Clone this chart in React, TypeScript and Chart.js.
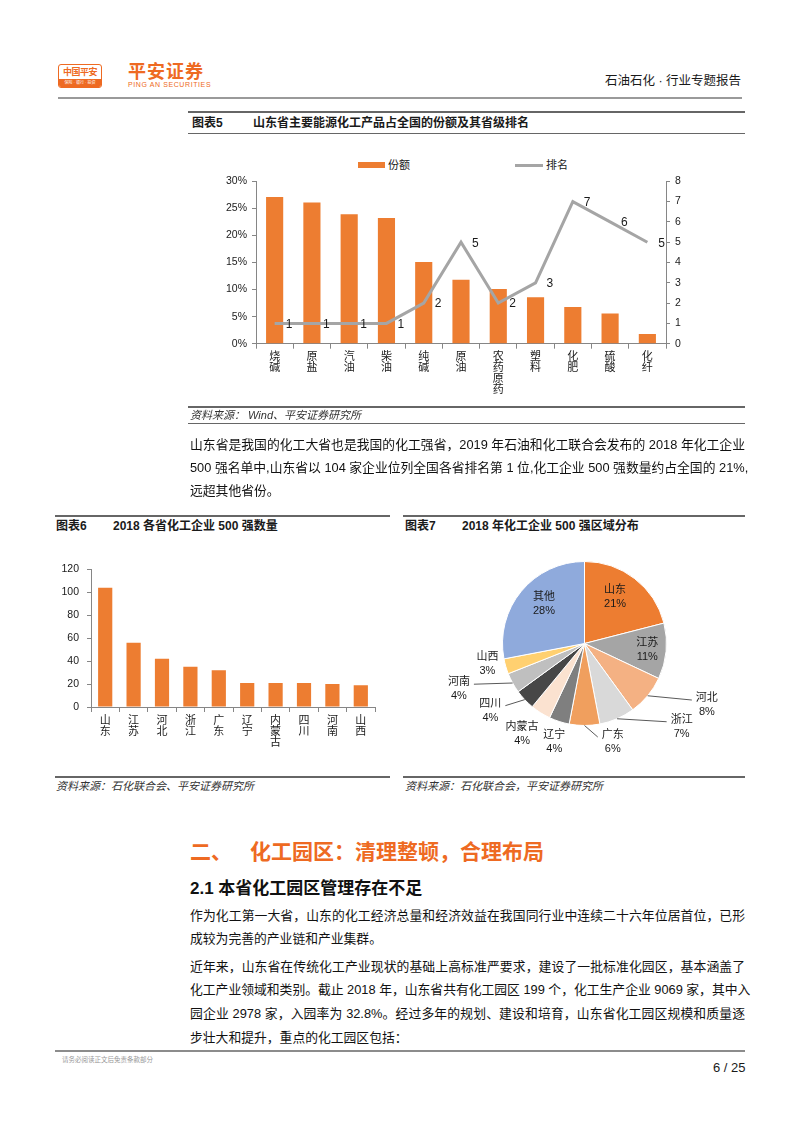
import React, { useEffect, useRef } from "react";
import { Chart, registerables } from "chart.js";
Chart.register(...registerables);

const FONT = '"Liberation Sans", "Noto Sans CJK SC", sans-serif';
const ORANGE = "#ED7D31";
const AXIS = "#868686";

// ---------- 图表5 data ----------
const productLabels = ["烧碱", "原盐", "汽油", "柴油", "纯碱", "原油", "农药原药", "塑料", "化肥", "硫酸", "化纤"];
const productShare = [27.1, 26.1, 23.9, 23.2, 15.1, 11.8, 10.1, 8.6, 6.8, 5.6, 1.8];
const productRank = [1, 1, 1, 1, 2, 5, 2, 3, 7, 6, 5];

// ---------- 图表6 data ----------
const provinces = ["山东", "江苏", "河北", "浙江", "广东", "辽宁", "内蒙古", "四川", "河南", "山西"];
const top500Count = [104, 56, 42, 35, 32, 21, 21, 21, 20, 19];

// ---------- 图表7 data ----------
const pieRegions = ["山东", "江苏", "河北", "浙江", "广东", "辽宁", "内蒙古", "四川", "河南", "山西", "其他"];
const pieShare = [21, 11, 8, 7, 6, 4, 4, 4, 4, 3, 28];

// styles for pie
const pieColors = ["#ED7D31", "#A5A5A5", "#F4B183", "#D9D9D9", "#F09F5E", "#7F7F7F", "#FBE2D0", "#474747", "#BFBFBF", "#FFD070", "#8FAADC"];
const pieLabelRadius = [0.68, 0.77, 1.67, 1.56, 1.25, 1.26, 1.34, 1.41, 1.63, 1.21, 0.69];
const pieLabelShift = [-4.5, 0.5, -12.9, -26, -16, -1, 2.2, 7.7, 8.8, 4.2, 4.7];
const pieLeader = [false, false, true, true, true, false, false, true, true, false, false];

const vertical = (s: string) => s.split("");

const rankLabelPlugin = {
  id: "rankLabels",
  afterDatasetsDraw(chart: any) {
    const meta = chart.getDatasetMeta(0);
    const ctx = chart.ctx;
    ctx.save();
    ctx.font = `12px ${FONT}`;
    ctx.fillStyle = "#1a1a1a";
    ctx.textAlign = "left";
    ctx.textBaseline = "middle";
    meta.data.forEach((p: any, i: number) => {
      ctx.fillText(String(productRank[i]), p.x + 11, p.y + 1);
    });
    ctx.restore();
  },
};

const pieLabelPlugin = {
  id: "pieLabels",
  afterDatasetsDraw(chart: any) {
    const meta = chart.getDatasetMeta(0);
    const ctx = chart.ctx;
    ctx.save();
    ctx.font = `11px ${FONT}`;
    ctx.fillStyle = "#1a1a1a";
    ctx.textAlign = "center";
    ctx.textBaseline = "middle";
    meta.data.forEach((arc: any, i: number) => {
      const { x, y, startAngle, endAngle, outerRadius } = arc.getProps(["x", "y", "startAngle", "endAngle", "outerRadius"], true);
      const mid = (startAngle + endAngle) / 2;
      const a = mid + (pieLabelShift[i] * Math.PI) / 180;
      const r = outerRadius * pieLabelRadius[i];
      const lx = x + Math.cos(a) * r;
      const ly = y + Math.sin(a) * r;
      const l1 = pieRegions[i];
      const l2 = pieShare[i] + "%";
      const y1 = ly - 7;
      const y2 = ly + 7;
      if (pieLeader[i]) {
        const ex = x + Math.cos(mid) * outerRadius;
        const ey = y + Math.sin(mid) * outerRadius;
        const w = Math.max(ctx.measureText(l1).width, ctx.measureText(l2).width) / 2;
        const side = lx > ex ? -1 : 1;
        const tx = lx + side * (w + 4);
        ctx.strokeStyle = "#595959";
        ctx.lineWidth = 1;
        ctx.beginPath();
        ctx.moveTo(ex, ey);
        ctx.lineTo(tx, y1 + 2);
        ctx.stroke();
      }
      ctx.fillText(l1, lx, y1);
      ctx.fillText(l2, lx, y2);
    });
    ctx.restore();
  },
};

const xTickFont = { size: 11, family: FONT, lineHeight: 1.0 };

function ShareChart() {
  const ref = useRef<HTMLCanvasElement>(null);
  useEffect(() => {
    const chart = new Chart(ref.current!, {
      type: "bar",
      data: {
        labels: productLabels.map(vertical),
        datasets: [
          {
            type: "line",
            label: "排名",
            data: productRank,
            yAxisID: "y1",
            borderColor: "#A5A5A5",
            borderWidth: 3,
            pointRadius: 0,
            tension: 0,
            order: 0,
          } as any,
          {
            type: "bar",
            label: "份额",
            data: productShare,
            yAxisID: "y",
            backgroundColor: ORANGE,
            barPercentage: 0.46,
            categoryPercentage: 1,
            order: 1,
          },
        ],
      },
      options: {
        responsive: false,
        animation: false,
        layout: { padding: { left: 0, right: 0, top: 11, bottom: 0 } },
        plugins: { legend: { display: false }, tooltip: { enabled: false } },
        scales: {
          x: {
            grid: { drawOnChartArea: false, drawTicks: true, tickLength: 5, offset: true, color: AXIS },
            border: { display: true, color: AXIS },
            ticks: { font: xTickFont, color: "#1a1a1a", maxRotation: 0, autoSkip: false, padding: 3 },
            afterFit: (s: any) => {
              s.height = 71.3;
            },
          },
          y: {
            position: "left",
            min: 0,
            max: 30,
            ticks: { stepSize: 5, callback: (v: any) => v + "%", font: { size: 10.5, family: FONT }, color: "#1a1a1a", padding: 5 },
            grid: { drawOnChartArea: false, drawTicks: true, tickLength: 4, color: AXIS },
            border: { display: true, color: AXIS },
            afterFit: (s: any) => {
              s.width = 66;
            },
          },
          y1: {
            position: "right",
            min: 0,
            max: 8,
            ticks: { stepSize: 1, font: { size: 10.5, family: FONT }, color: "#1a1a1a", padding: 5 },
            grid: { drawOnChartArea: false, drawTicks: true, tickLength: 4, color: AXIS },
            border: { display: true, color: AXIS },
            afterFit: (s: any) => {
              s.width = 79;
            },
          },
        },
      },
      plugins: [rankLabelPlugin],
    });
    return () => chart.destroy();
  }, []);
  return <canvas ref={ref} width={555} height={245} style={{ position: "absolute", left: 190, top: 170 }} />;
}

function CountChart() {
  const ref = useRef<HTMLCanvasElement>(null);
  useEffect(() => {
    const chart = new Chart(ref.current!, {
      type: "bar",
      data: {
        labels: provinces.map(vertical),
        datasets: [
          {
            label: "数量",
            data: top500Count,
            backgroundColor: ORANGE,
            barPercentage: 0.5,
            categoryPercentage: 1,
          },
        ],
      },
      options: {
        responsive: false,
        animation: false,
        layout: { padding: { left: 0, right: 15, top: 12, bottom: 0 } },
        plugins: { legend: { display: false }, tooltip: { enabled: false } },
        scales: {
          x: {
            grid: { drawOnChartArea: false, drawTicks: true, tickLength: 5, offset: true, color: AXIS },
            border: { display: true, color: AXIS },
            ticks: { font: xTickFont, color: "#1a1a1a", maxRotation: 0, autoSkip: false, padding: 3 },
            afterFit: (s: any) => {
              s.height = 63;
            },
          },
          y: {
            min: 0,
            max: 120,
            ticks: { stepSize: 20, font: { size: 10.5, family: FONT }, color: "#1a1a1a", padding: 8 },
            grid: { drawOnChartArea: false, drawTicks: true, tickLength: 4, color: AXIS },
            border: { display: true, color: AXIS },
            afterFit: (s: any) => {
              s.width = 36;
            },
          },
        },
      },
    });
    return () => chart.destroy();
  }, []);
  return <canvas ref={ref} width={335} height={215} style={{ position: "absolute", left: 55, top: 555 }} />;
}

function RegionPie() {
  const ref = useRef<HTMLCanvasElement>(null);
  useEffect(() => {
    const chart = new Chart(ref.current!, {
      type: "pie",
      data: {
        labels: pieRegions,
        datasets: [
          {
            data: pieShare,
            backgroundColor: pieColors,
            borderColor: "#ffffff",
            borderWidth: 1,
          },
        ],
      },
      options: {
        responsive: false,
        animation: false,
        radius: 82,
        layout: { padding: { left: 99.5, right: 78.5, top: 16.5, bottom: 39.5 } },
        plugins: { legend: { display: false }, tooltip: { enabled: false } },
      } as any,
      plugins: [pieLabelPlugin],
    });
    return () => chart.destroy();
  }, []);
  return <canvas ref={ref} width={342} height={220} style={{ position: "absolute", left: 403, top: 545 }} />;
}

const T = ({ x, y, size, children, style }: any) => (
  <div
    style={{
      position: "absolute",
      left: x,
      top: y - size * 0.75,
      fontSize: size,
      lineHeight: `${size * 1.5}px`,
      whiteSpace: "nowrap",
      fontFamily: FONT,
      color: "#1a1a1a",
      ...style,
    }}
  >
    {children}
  </div>
);

const HLine = ({ x, y, w, h = 1, color = "#7f7f7f" }: any) => (
  <div style={{ position: "absolute", left: x, top: y, width: w, height: h, background: color }} />
);

const BODY = 12.8;
const Para = ({ x, y, w, lines, gap }: any) => (
  <>
    {lines.map((t: string, i: number) => (
      <div
        key={i}
        style={{
          position: "absolute",
          left: x,
          top: y + i * gap - BODY * 0.8,
          width: w,
          fontSize: BODY,
          lineHeight: `${BODY * 1.6}px`,
          whiteSpace: "nowrap",
          fontFamily: FONT,
          color: "#111",
          textAlign: "justify",
          textAlignLast: i < lines.length - 1 ? "justify" : "left",
        }}
      >
        {t}
      </div>
    ))}
  </>
);

const para1 = [
  "山东省是我国的化工大省也是我国的化工强省，2019 年石油和化工联合会发布的 2018 年化工企业",
  "500 强名单中,山东省以 104 家企业位列全国各省排名第 1 位,化工企业 500 强数量约占全国的 21%,",
  "远超其他省份。",
];
const para2 = [
  "作为化工第一大省，山东的化工经济总量和经济效益在我国同行业中连续二十六年位居首位，已形",
  "成较为完善的产业链和产业集群。",
];
const para3 = [
  "近年来，山东省在传统化工产业现状的基础上高标准严要求，建设了一批标准化园区，基本涵盖了",
  "化工产业领域和类别。截止 2018 年，山东省共有化工园区 199 个，化工生产企业 9069 家，其中入",
  "园企业 2978 家，入园率为 32.8%。经过多年的规划、建设和培育，山东省化工园区规模和质量逐",
  "步壮大和提升，重点的化工园区包括：",
];

export default function App() {
  const titleStyle = { fontWeight: 700 };
  const srcStyle = { fontStyle: "italic", color: "#333" };
  return (
    <div style={{ position: "absolute", left: 0, top: 0, width: 802, height: 1133, background: "#fff", overflow: "hidden", fontFamily: FONT }}>
      {/* header */}
      <div
        style={{
          position: "absolute",
          left: 58,
          top: 64,
          width: 44,
          height: 24,
          border: "1.5px solid #EE6A22",
          borderRadius: 3,
          boxSizing: "border-box",
          background: "#fff",
          overflow: "hidden",
        }}
      >
        <div style={{ fontSize: 9, fontWeight: 700, color: "#EE6A22", textAlign: "center", lineHeight: "14px", fontFamily: FONT, letterSpacing: -0.5 }}>中国平安</div>
        <div
          style={{
            position: "absolute",
            left: 0,
            right: 0,
            bottom: 0,
            height: 8,
            background: "#EE6A22",
            color: "#fff",
            fontSize: 4,
            lineHeight: "8px",
            textAlign: "center",
            fontFamily: FONT,
          }}
        >
          保险 · 银行 · 投资
        </div>
      </div>
      <T x={128} y={72} size={18} style={{ fontWeight: 700, color: "#EE6A22", letterSpacing: 1 }}>
        平安证券
      </T>
      <T x={128} y={85} size={7} style={{ color: "#EE6A22", letterSpacing: 0.6 }}>
        PING AN SECURITIES
      </T>
      <T x={605} y={81} size={12.5} style={{ color: "#1a1a1a" }}>
        石油石化 · 行业专题报告
      </T>
      <HLine x={58} y={96.5} w={684} h={2} color="#9a9a9a" />

      {/* chart 5 */}
      <HLine x={188} y={111} w={557} h={1.5} color="#666" />
      <T x={192} y={123} size={12} style={titleStyle}>
        图表5
      </T>
      <T x={253} y={123} size={12} style={titleStyle}>
        山东省主要能源化工产品占全国的份额及其省级排名
      </T>
      <HLine x={188} y={133} w={557} h={1} color="#666" />
      <div style={{ position: "absolute", left: 358, top: 162, width: 27, height: 6, background: ORANGE }} />
      <T x={388} y={165} size={11}>
        份额
      </T>
      <div style={{ position: "absolute", left: 515, top: 163.5, width: 28, height: 3, background: "#A5A5A5" }} />
      <T x={546} y={165} size={11}>
        排名
      </T>
      <ShareChart />
      <HLine x={188} y={406} w={557} h={1.5} color="#666" />
      <T x={190} y={415} size={11} style={srcStyle}>
        资料来源： Wind、平安证券研究所
      </T>
      <HLine x={188} y={423} w={557} h={1} color="#666" />

      <Para x={190} y={445} w={555} lines={para1} gap={23.3} />

      {/* chart 6 */}
      <HLine x={55} y={515} w={335} h={1.5} color="#666" />
      <T x={56} y={526} size={12} style={titleStyle}>
        图表6
      </T>
      <T x={113} y={526} size={12} style={titleStyle}>
        2018 各省化工企业 500 强数量
      </T>
      <CountChart />
      <HLine x={55} y={776} w={335} h={1.5} color="#666" />
      <T x={56} y={786} size={11} style={srcStyle}>
        资料来源：石化联合会、平安证券研究所
      </T>

      {/* chart 7 */}
      <HLine x={403} y={515} w={342} h={1.5} color="#666" />
      <T x={405} y={526} size={12} style={titleStyle}>
        图表7
      </T>
      <T x={462} y={526} size={12} style={titleStyle}>
        2018 年化工企业 500 强区域分布
      </T>
      <RegionPie />
      <HLine x={403} y={776} w={342} h={1.5} color="#666" />
      <T x={405} y={786} size={11} style={srcStyle}>
        资料来源：石化联合会，平安证券研究所
      </T>

      {/* section */}
      <T x={190} y={852} size={21} style={{ fontWeight: 700, color: "#EE6A22" }}>
        二、
      </T>
      <T x={250} y={852} size={21} style={{ fontWeight: 700, color: "#EE6A22" }}>
        化工园区：清理整顿，合理布局
      </T>
      <T x={190} y={889} size={17} style={{ fontWeight: 700, color: "#111" }}>
        2.1 本省化工园区管理存在不足
      </T>
      <Para x={190} y={916} w={555} lines={para2} gap={23.6} />
      <Para x={190} y={967} w={555} lines={para3} gap={23.6} />

      {/* footer */}
      <HLine x={55} y={1050} w={690} h={1.5} color="#8c8c8c" />
      <T x={62} y={1060} size={6.5} style={{ color: "#999" }}>
        请务必阅读正文后免责条款部分
      </T>
      <T x={713} y={1068} size={13} style={{ color: "#1a1a1a" }}>
        6 / 25
      </T>
    </div>
  );
}
